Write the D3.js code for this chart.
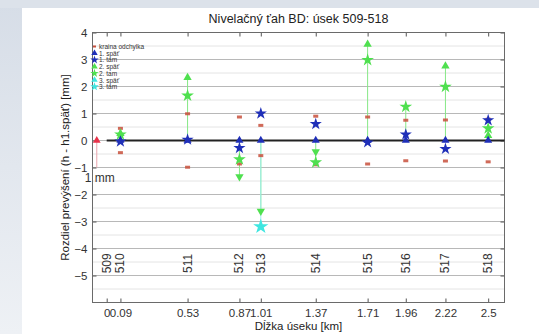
<!DOCTYPE html>
<html><head><meta charset="utf-8">
<script src="https://cdn.jsdelivr.net/npm/d3@7"></script>
<style>body{margin:0;background:#fff;} svg{display:block;font-family:"Liberation Sans",Arial,sans-serif;}</style>
</head><body><svg id="c" width="539" height="334"></svg>
<script>
// ---- data ----
const sections  = ["509","510","511","512","513","514","515","516","517","518"];
const distances = [0, 0.09, 0.53, 0.87, 1.01, 1.37, 1.71, 1.96, 2.22, 2.5];
const xTickLabels = ["0","0.09","0.53","0.87","1.01","1.37","1.71","1.96","2.22","2.5"];
const limitDev  = [null, 0.45, 0.99, 0.87, 0.56, 0.90, 0.87, 0.75, 0.76, 0.79];
const spat1 = [null, 0, 0, 0, 0, 0, 0, 0, 0, 0];
const tam1  = [null, -0.04, 0.03, -0.28, 1.00, 0.61, -0.07, 0.22, -0.31, 0.75];
const spat2 = [null, 0.26, 2.33, -1.34, -2.62, -0.41, 3.56, null, 2.76, 0.18];
const tam2  = [null, 0.22, 1.66, -0.70, null, -0.81, 2.98, 1.25, 1.99, 0.45];
const spat3 = [null, null, null, null, null, null, null, null, null, null];
const tam3  = [null, null, null, null, -3.19, null, null, null, null, null];
const yTicks = [-5, -4, -3, -2, -1, 0, 1, 2, 3, 4];
const legendLabels = ["kraina odchylka","1. späť","1. tam","2. späť","2. tam","3. späť","3. tam"];
const scaleBar = {x: -0.065, from: 0, to: -1, label: "1 mm"};
const titleText = "Nivelačný ťah BD: úsek 509-518";
const xLabel = "Dĺžka úseku [km]";
const yLabel = "Rozdiel prevýšení (h - h1.späť) [mm]";

// ---- layout ----
const svg = d3.select("#c");
const L = 92.5, R = 504.5, T = 32.5, B = 302.5;
const x = d3.scaleLinear().domain([-0.093, 2.607]).range([L, R]);
const y = d3.scaleLinear().domain([-6, 4]).range([B, T]);

const colBlue = "#1f2fb8", colGreen = "#4fe04f", colCyan = "#3fe6e0", colRed = "#c8503c";

// background (slide)
const defs = svg.append("defs");
const g1 = defs.append("linearGradient").attr("id","bgL").attr("x1",0).attr("y1",0).attr("x2",0).attr("y2",1);
g1.append("stop").attr("offset","0").attr("stop-color","#d6dde7");
g1.append("stop").attr("offset","1").attr("stop-color","#eef1f5");
svg.append("rect").attr("width",539).attr("height",334).attr("fill","url(#bgL)");
svg.append("rect").attr("x",0).attr("y",0).attr("width",539).attr("height",8).attr("fill","#dce2ea");
svg.append("rect").attr("x",22).attr("y",8).attr("width",517).attr("height",326).attr("fill","#ffffff");

// plot bg
svg.append("rect").attr("x",L).attr("y",T).attr("width",R-L).attr("height",B-T).attr("fill","#fff");

// minor grid
const minor = d3.range(-6, 4.01, 0.5).filter(v => Math.abs(v - Math.round(v)) > 0.1);
svg.append("g").selectAll("line").data(minor).join("line")
  .attr("x1",L).attr("x2",R).attr("y1",d=>y(d)).attr("y2",d=>y(d))
  .attr("stroke","#e4e4e4").attr("stroke-width",1);
// major grid
svg.append("g").selectAll("line").data(yTicks).join("line")
  .attr("x1",L).attr("x2",R).attr("y1",d=>y(d)).attr("y2",d=>y(d))
  .attr("stroke","#b8b8b8").attr("stroke-width",1);

// axes
const xAxisB = d3.axisBottom(x).tickValues(distances).tickFormat((d,i)=>xTickLabels[i]).tickSizeInner(-4).tickSizeOuter(0).tickPadding(6);
const xAxisT = d3.axisTop(x).tickValues(distances).tickFormat("").tickSizeInner(-4).tickSizeOuter(0);
const yAxisL = d3.axisLeft(y).tickValues(yTicks).tickFormat(d3.format("d")).tickSizeInner(-4).tickSizeOuter(0).tickPadding(5);
const yAxisR = d3.axisRight(y).tickValues(yTicks).tickFormat("").tickSizeInner(-4).tickSizeOuter(0);
function styleAx(g){
  g.select(".domain").remove();
  g.selectAll(".tick line").attr("stroke","#555");
  g.selectAll("text").attr("fill","#333").attr("font-size","11.5px").attr("font-family","Liberation Sans, Arial, sans-serif");
}
svg.append("g").attr("transform",`translate(0,${B})`).call(xAxisB).call(styleAx);
svg.append("g").attr("transform",`translate(0,${T})`).call(xAxisT).call(styleAx);
svg.append("g").attr("transform",`translate(${L},0)`).call(yAxisL).call(styleAx);
svg.append("g").attr("transform",`translate(${R},0)`).call(yAxisR).call(styleAx);
svg.append("rect").attr("x",L).attr("y",T).attr("width",R-L).attr("height",B-T)
  .attr("fill","none").attr("stroke","#6a6a6a").attr("stroke-width",1);

// zero line
svg.append("line").attr("x1",x(0)).attr("x2",R).attr("y1",y(0)).attr("y2",y(0))
  .attr("stroke","#222").attr("stroke-width",2);

// scale bar
svg.append("line").attr("x1",x(scaleBar.x)).attr("x2",x(scaleBar.x))
  .attr("y1",y(scaleBar.from)).attr("y2",y(scaleBar.to)).attr("stroke","#eaa6ae").attr("stroke-width",1);
svg.append("path").attr("d",d3.symbol(d3.symbolTriangle,26)())
  .attr("transform",`translate(${x(scaleBar.x)},${y(scaleBar.from)})`).attr("fill","#e8324a");
svg.append("text").attr("x",x(scaleBar.x)-12).attr("y",y(scaleBar.to)+14)
  .attr("font-size","12px").attr("fill","#333").text(scaleBar.label);

// connecting lines per group
const groups = [
  {sp: spat2, tm: tam2, col: "#86e886"},
  {sp: spat3, tm: tam3, col: "#9eeeee"}
];
groups.forEach(gr => {
  distances.forEach((d,i) => {
    const vals = [gr.sp[i], gr.tm[i]].filter(v => v !== null);
    if (!vals.length) return;
    const lo = Math.min(0, ...vals), hi = Math.max(0, ...vals);
    svg.append("line").attr("x1",x(d)).attr("x2",x(d)).attr("y1",y(lo)).attr("y2",y(hi))
      .attr("stroke",gr.col).attr("stroke-width",1);
  });
});

// limit deviation marks
const limPts = [];
distances.forEach((d,i)=>{ if(limitDev[i]!==null){ limPts.push([d, limitDev[i]]); limPts.push([d, -limitDev[i]]);} });
svg.append("g").selectAll("rect").data(limPts).join("rect")
  .attr("x",p=>x(p[0])-2.5).attr("y",p=>y(p[1])-1.5).attr("width",5).attr("height",3)
  .attr("fill",colRed).attr("opacity",0.85);

// marker drawing
function drawSeries(vals, color, kind, size){
  const pts = distances.map((d,i)=>[d, vals[i]]).filter(p=>p[1]!==null);
  svg.append("g").selectAll("path").data(pts).join("path")
    .attr("d", p => d3.symbol(kind==="star"?d3.symbolStar:d3.symbolTriangle, size)())
    .attr("transform", p => `translate(${x(p[0])},${y(p[1])})` + (kind==="tri" && p[1] < 0 ? " rotate(180)" : ""))
    .attr("fill", color);
}
drawSeries(spat2, colGreen, "tri", 30);
drawSeries(tam2, colGreen, "star", 50);
drawSeries(spat3, colCyan, "tri", 30);
drawSeries(tam3, colCyan, "star", 72);
drawSeries(spat1, colBlue, "tri", 28);
drawSeries(tam1, colBlue, "star", 46);

// section labels
svg.append("g").selectAll("text").data(sections).join("text")
  .attr("transform",(s,i)=>`translate(${x(distances[i])+4},${y(-4.55)}) rotate(-90)`)
  .attr("text-anchor","middle").attr("font-size","12px").attr("fill","#333").text(d => d);

// legend
const legMarkers = [
  {c: colRed, k: "dot"}, {c: colBlue, k: "tri"}, {c: colBlue, k: "star"},
  {c: colGreen, k: "tri"}, {c: colGreen, k: "star"}, {c: colCyan, k: "tri"}, {c: colCyan, k: "star"}
];
const leg = svg.append("g");
legendLabels.forEach((lab,i)=>{
  const yy = 46.5 + i*6.7;
  const m = legMarkers[i];
  if (m.k === "dot") leg.append("rect").attr("x",93).attr("y",yy-1).attr("width",3).attr("height",2).attr("fill",m.c);
  else leg.append("path").attr("d",d3.symbol(m.k==="star"?d3.symbolStar:d3.symbolTriangle, m.k==="star"?22:18)())
    .attr("transform",`translate(94.5,${yy})`).attr("fill",m.c);
  leg.append("text").attr("x",99).attr("y",yy+2.5).attr("font-size","6.5px").attr("fill","#333").text(lab);
});

// titles
svg.append("text").attr("x",(L+R)/2).attr("y",23).attr("text-anchor","middle")
  .attr("font-size","12.5px").attr("fill","#222").text(titleText);
svg.append("text").attr("x",(L+R)/2).attr("y",330).attr("text-anchor","middle")
  .attr("font-size","11.5px").attr("fill","#222").text(xLabel);
svg.append("text").attr("transform",`translate(69,${(T+B)/2}) rotate(-90)`).attr("text-anchor","middle")
  .attr("font-size","11.5px").attr("fill","#222").text(yLabel);
</script></body></html>
